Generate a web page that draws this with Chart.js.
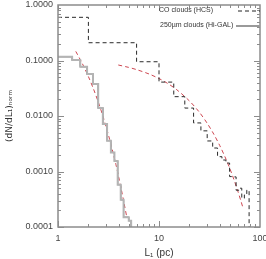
<!DOCTYPE html>
<html>
<head>
<meta charset="utf-8">
<script src="https://cdn.jsdelivr.net/npm/chart.js@4.4.1/dist/chart.umd.min.js"></script>
<style>
  html, body { margin: 0; padding: 0; background: #fff; }
  canvas { display: block; }
</style>
</head>
<body>
<canvas id="sizeChart" width="266" height="259"></canvas>
<script>
// CO clouds (HCS): bin edges in pc and normalised dN/dL per bin
const coEdges = [1, 2, 6, 10, 14, 18, 22, 26, 30, 34, 38, 42, 46, 50, 54, 58, 62, 66, 70, 74, 78];
const coValues = [0.600, 0.209, 0.0950, 0.0408, 0.0223, 0.0139, 0.0075, 0.0054, 0.00355, 0.00265,
                  0.00185, 0.00161, 0.00142, 0.00081, 0.00080, 0.00046, 0.00050, 0.00033, 0.00038, 0.00046];

// 250um clouds (Hi-GAL)
const higalEdges = [1, 1.38, 1.66, 1.94, 2.22, 2.50, 2.78, 3.06, 3.34, 3.62, 3.90, 4.18, 4.46, 4.74, 5.02, 5.30];
const higalValues = [0.117, 0.102, 0.0773, 0.057, 0.0377, 0.014, 0.0072, 0.0036, 0.0022, 0.00154,
                     0.00058, 0.00031, 0.00015, 0.00015, 0.00013];

// fitted curves (red dashed)
const higalFitL = [1.5, 1.75, 2.0, 2.25, 2.5, 2.75, 3.0, 3.25, 3.5, 3.75, 4.0, 4.25, 4.5, 4.8];
const higalFitV = [0.146, 0.0865, 0.0513, 0.0304, 0.0180, 0.0107, 0.00632, 0.00375, 0.00222,
                   0.00132, 0.00078, 0.000462, 0.000274, 0.00015];
const coFitL = [3.95, 5, 6, 8, 10, 12, 15, 20, 25, 30, 35, 40, 45, 50, 55, 60, 65, 68];
const coFitV = [0.0830, 0.0752, 0.0685, 0.0570, 0.0473, 0.0393, 0.0297, 0.0187, 0.0118, 0.00739,
                0.00465, 0.00292, 0.00184, 0.00116, 0.000727, 0.000457, 0.000287, 0.000218];

// axis ticks
const xTicks = [1, 10, 100];
const yTicks = [0.0001, 0.001, 0.01, 0.1, 1];
const yMin = 0.0001;

// histogram -> stepped points, last point drops to the axis
function histPoints(edges, values) {
  const pts = values.map((v, i) => ({ x: edges[i], y: v }));
  pts.push({ x: edges[edges.length - 1], y: yMin });
  return pts;
}
function curvePoints(xs, ys) {
  return xs.map((x, i) => ({ x: x, y: ys[i] }));
}

const red = 'rgb(205, 70, 80)';

// box, inward ticks on all sides, legend
const framePlugin = {
  id: 'frame',
  afterDraw(chart) {
    const { ctx, chartArea: a, scales: { x, y } } = chart;
    ctx.save();
    ctx.strokeStyle = '#8c8c8c';
    ctx.lineWidth = 1;
    const seg = (x1, y1, x2, y2) => { ctx.beginPath(); ctx.moveTo(x1, y1); ctx.lineTo(x2, y2); ctx.stroke(); };
    for (let d = 0; d < 2; d++) {
      for (let m = 1; m < 10; m++) {
        const v = m * Math.pow(10, d);
        const px = Math.round(x.getPixelForValue(v)) + 0.5;
        const len = m === 1 ? 6 : 3;
        seg(px, a.bottom, px, a.bottom - len);
        seg(px, a.top, px, a.top + len);
      }
    }
    for (let d = -4; d < 0; d++) {
      for (let m = 1; m < 10; m++) {
        const v = m * Math.pow(10, d);
        const py = Math.round(y.getPixelForValue(v)) + 0.5;
        const len = m === 1 ? 6 : 3;
        seg(a.left, py, a.left + len, py);
        seg(a.right, py, a.right - len, py);
      }
    }
    ctx.lineWidth = 1.5;
    ctx.strokeRect(a.left, a.top, a.right - a.left, a.bottom - a.top);

    // legend
    ctx.font = '7px "Liberation Sans", Arial, sans-serif';
    ctx.fillStyle = '#333';
    ctx.textBaseline = 'middle';
    ctx.fillText('CO clouds (HCS)', a.right - 101, a.top + 5);
    ctx.fillText('250\u00b5m clouds (Hi-GAL)', a.right - 100, a.top + 20);
    ctx.lineWidth = 1;
    ctx.strokeStyle = '#222';
    ctx.setLineDash([4, 3]);
    seg(a.right - 22, a.top + 6, a.right, a.top + 6);
    ctx.setLineDash([]);
    ctx.strokeStyle = '#9a9a9a';
    ctx.lineWidth = 2;
    seg(a.right - 24, a.top + 21, a.right, a.top + 21);
    ctx.restore();
  }
};

new Chart(document.getElementById('sizeChart'), {
  type: 'line',
  data: {
    datasets: [
      {
        label: 'CO clouds (HCS)',
        data: histPoints(coEdges, coValues),
        stepped: 'before',
        borderColor: '#2a2a2a',
        borderWidth: 1,
        borderDash: [4, 3],
        pointRadius: 0
      },
      {
        label: '250um clouds (Hi-GAL) grey',
        data: histPoints(higalEdges, higalValues),
        stepped: 'before',
        borderColor: '#b4b4b4',
        borderWidth: 2,
        pointRadius: 0
      },
      {
        label: '250um clouds (Hi-GAL)',
        data: histPoints(higalEdges, higalValues),
        stepped: 'before',
        borderColor: '#222',
        borderWidth: 1,
        pointRadius: 0
      },
      {
        label: 'Hi-GAL fit',
        data: curvePoints(higalFitL, higalFitV),
        borderColor: red,
        borderWidth: 1,
        borderDash: [4, 3],
        tension: 0.3,
        pointRadius: 0
      },
      {
        label: 'CO fit',
        data: curvePoints(coFitL, coFitV),
        borderColor: red,
        borderWidth: 1,
        borderDash: [4, 3],
        tension: 0.3,
        pointRadius: 0
      }
    ]
  },
  options: {
    responsive: false,
    animation: false,
    layout: { autoPadding: false, padding: { top: 5, right: 6, left: 0, bottom: 0 } },
    plugins: { legend: { display: false }, tooltip: { enabled: false } },
    scales: {
      x: {
        type: 'logarithmic',
        min: 1,
        max: 100,
        afterBuildTicks: s => { s.ticks = xTicks.map(v => ({ value: v })); },
        afterFit: s => { s.height = 32; s.paddingLeft = 0; s.paddingRight = 0; },
        grid: { display: false, drawTicks: false },
        border: { display: false },
        ticks: {
          padding: 6,
          maxRotation: 0,
          autoSkip: false,
          color: '#444',
          font: { family: '"Liberation Sans", Arial, sans-serif', size: 9 },
          callback: v => String(v)
        },
        title: {
          display: true,
          text: 'L\u2081 (pc)',
          color: '#333',
          padding: { top: 0, bottom: 0 },
          font: { family: '"Liberation Sans", Arial, sans-serif', size: 10 }
        }
      },
      y: {
        type: 'logarithmic',
        min: 0.0001,
        max: 1,
        afterBuildTicks: s => { s.ticks = yTicks.map(v => ({ value: v })); },
        afterFit: s => { s.width = 58; s.paddingTop = 0; s.paddingBottom = 0; },
        grid: { display: false, drawTicks: false },
        border: { display: false },
        ticks: {
          padding: 5,
          autoSkip: false,
          color: '#444',
          font: { family: '"Liberation Sans", Arial, sans-serif', size: 9 },
          callback: v => Number(v).toFixed(4)
        },
        title: {
          display: true,
          text: '(dN/dL\u2081)\u2099\u2092\u1d63\u2098',
          color: '#333',
          padding: { top: 4, bottom: 0 },
          font: { family: '"DejaVu Sans", sans-serif', size: 9 }
        }
      }
    }
  },
  plugins: [framePlugin]
});
</script>
</body>
</html>
